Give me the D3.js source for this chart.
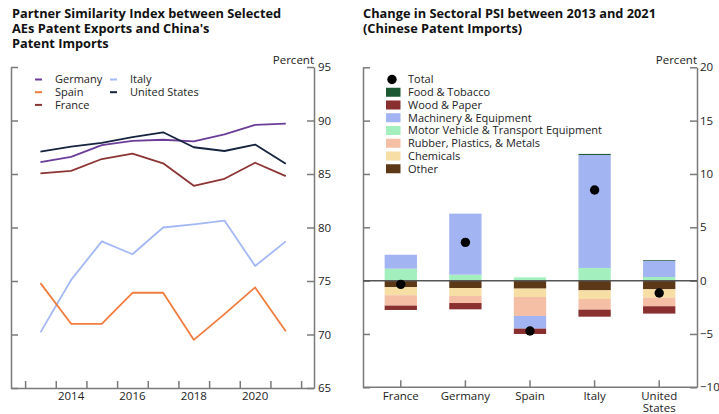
<!DOCTYPE html>
<html><head><meta charset="utf-8">
<script src="https://cdn.jsdelivr.net/npm/d3@7"></script>
<style>
body{margin:0;background:#fff;}
svg{display:block;font-family:"Open Sans",sans-serif;}
.axis path,.axis line{stroke:#7a7a7a;stroke-width:1.5;}
.axis text{font-size:11.5px;fill:#222;font-family:"Open Sans",sans-serif;}
</style></head>
<body>
<svg id="c" width="719" height="414"></svg>
<script>
// ---------- Left panel data ----------
const years = [2013,2014,2015,2016,2017,2018,2019,2020,2021];
const germany = [86.1, 86.6, 87.7, 88.1, 88.2, 88.05, 88.7, 89.6, 89.7];
const spain   = [74.8, 71.0, 71.0, 73.9, 73.9, 69.5, 71.9, 74.4, 70.3];
const france  = [85.05, 85.3, 86.4, 86.9, 86.0, 83.9, 84.55, 86.05, 84.8];
const italy   = [70.2, 75.1, 78.7, 77.5, 80.0, 80.3, 80.65, 76.4, 78.7];
const unitedStates = [87.1, 87.55, 87.9, 88.45, 88.9, 87.5, 87.15, 87.75, 85.95];
const leftYTicks = [65,70,75,80,85,90,95];
const yearLabels = [2014,2016,2018,2020];

// ---------- Right panel data ----------
const countries = ["France","Germany","Spain","Italy","United States"];
const foodTobacco  = [0, 0, 0, 0.1, 0.07];
const woodPaper    = [-0.41, -0.59, -0.5, -0.66, -0.69];
const machinery    = [1.31, 5.72, -1.19, 10.59, 1.5];
const motorVehicle = [1.12, 0.56, 0.31, 1.19, 0.34];
const rubber       = [-0.97, -0.66, -1.78, -1.0, -0.81];
const chemicals    = [-0.75, -0.75, -0.78, -0.81, -0.78];
const other        = [-0.62, -0.69, -0.75, -0.91, -0.81];
const total        = [-0.35, 3.59, -4.72, 8.5, -1.16];
const rightYTicks = [-10,-5,0,5,10,15,20];

const svg = d3.select("#c");

// ================= LEFT PANEL =================
const L = {x0:11, x1:314, y0:67, y1:388};
const xL = d3.scaleLinear().domain([2012.04, 2021.92]).range([L.x0, L.x1]);
const yL = d3.scaleLinear().domain([65,95]).range([L.y1, L.y0]);

const titleL = ["Partner Similarity Index between Selected","AEs Patent Exports and China's","Patent Imports"];
svg.append("text").attr("x",12).attr("y",18)
  .attr("font-weight","bold").attr("font-size","12.8px").attr("fill","#111")
  .selectAll("tspan").data(titleL).join("tspan")
  .attr("x",12).attr("dy",(d,i)=>i?15:0).text(d=>d);

svg.append("g").attr("class","axis").attr("transform",`translate(${L.x0},0)`)
  .call(d3.axisLeft(yL).tickValues(leftYTicks).tickSizeInner(-7).tickSizeOuter(0).tickFormat(""));
svg.append("g").attr("class","axis").attr("transform",`translate(${L.x1},0)`)
  .call(d3.axisRight(yL).tickValues(leftYTicks).tickSizeInner(-7).tickSizeOuter(0).tickPadding(4));
const halfYears = d3.range(2012.5, 2022, 1);
svg.append("g").attr("class","axis").attr("transform",`translate(0,${L.y1})`)
  .call(d3.axisBottom(xL).tickValues(halfYears).tickSizeInner(-7).tickSizeOuter(0).tickFormat(""));
svg.append("g").selectAll("text").data(yearLabels).join("text")
  .attr("x",d=>xL(d)).attr("y",L.y1+12).attr("text-anchor","middle")
  .attr("font-size","11.5px").attr("fill","#222").text(d=>d);
svg.append("text").attr("x",L.x1).attr("y",64).attr("text-anchor","end")
  .attr("font-size","11.5px").attr("fill","#222").text("Percent");

const seriesL = [
  {name:"Italy", values:italy, color:"#a4b8f6"},
  {name:"Spain", values:spain, color:"#f07c3e"},
  {name:"France", values:france, color:"#8c3434"},
  {name:"Germany", values:germany, color:"#6b3d98"},
  {name:"United States", values:unitedStates, color:"#15233f"}
];
const line = d3.line().x((d,i)=>xL(years[i])).y(d=>yL(d));
svg.append("g").selectAll("path").data(seriesL).join("path")
  .attr("d",d=>line(d.values)).attr("fill","none")
  .attr("stroke",d=>d.color).attr("stroke-width",1.8).attr("stroke-linejoin","round");

const legL = [
  {name:"Germany", color:"#6b3d98", col:0, row:0},
  {name:"Spain", color:"#f07c3e", col:0, row:1},
  {name:"France", color:"#8c3434", col:0, row:2},
  {name:"Italy", color:"#a4b8f6", col:1, row:0},
  {name:"United States", color:"#15233f", col:1, row:1}
];
const lg = svg.append("g").selectAll("g").data(legL).join("g")
  .attr("transform",d=>`translate(${35+d.col*75},${79.5+d.row*12.7})`);
lg.append("line").attr("x1",0).attr("x2",7).attr("stroke",d=>d.color).attr("stroke-width",2);
lg.append("text").attr("x",20).attr("dy","0.35em").attr("font-size","11px").attr("fill","#222").text(d=>d.name);

// ================= RIGHT PANEL =================
const R = {x0:363, x1:697, y0:67.3, y1:387.3};
const xR = d3.scaleBand().domain(countries).range([R.x0,R.x1]).paddingInner(0.5).paddingOuter(0.335);
const yR = d3.scaleLinear().domain([-10,20]).range([R.y1,R.y0]);

const titleR = ["Change in Sectoral PSI between 2013 and 2021","(Chinese Patent Imports)"];
svg.append("text").attr("x",363).attr("y",18)
  .attr("font-weight","bold").attr("font-size","12.8px").attr("fill","#111")
  .selectAll("tspan").data(titleR).join("tspan")
  .attr("x",363).attr("dy",(d,i)=>i?15:0).text(d=>d);

svg.append("g").attr("class","axis").attr("transform",`translate(${R.x0},0)`)
  .call(d3.axisLeft(yR).tickValues(rightYTicks).tickSizeInner(-7).tickSizeOuter(0).tickFormat(""));
svg.append("g").attr("class","axis").attr("transform",`translate(${R.x1},0)`)
  .call(d3.axisRight(yR).tickValues(rightYTicks).tickSizeInner(-7).tickSizeOuter(0).tickPadding(3));
svg.append("text").attr("x",R.x1).attr("y",64).attr("text-anchor","end")
  .attr("font-size","11.5px").attr("fill","#222").text("Percent");

const keys = ["other","chemicals","rubber","motorVehicle","machinery","woodPaper","foodTobacco"];
const src = {other,chemicals,rubber,motorVehicle,machinery,woodPaper,foodTobacco};
const colors = {foodTobacco:"#1d5a33", woodPaper:"#8a2f2f", machinery:"#a3b4f2", motorVehicle:"#a3efbd",
  rubber:"#f4bfa4", chemicals:"#f6dea4", other:"#5c3816"};
const labels = {foodTobacco:"Food & Tobacco", woodPaper:"Wood & Paper", machinery:"Machinery & Equipment",
  motorVehicle:"Motor Vehicle & Transport Equipment", rubber:"Rubber, Plastics, & Metals", chemicals:"Chemicals", other:"Other"};
const table = countries.map((c,i)=>{const o={country:c}; keys.forEach(k=>o[k]=src[k][i]); return o;});
const stacked = d3.stack().keys(keys).offset(d3.stackOffsetDiverging)(table);

svg.append("g").selectAll("g").data(stacked).join("g").attr("fill",d=>colors[d.key])
  .selectAll("rect").data(d=>d).join("rect")
  .attr("x",d=>xR(d.data.country)).attr("width",xR.bandwidth())
  .attr("y",d=>yR(Math.max(d[0],d[1]))).attr("height",d=>Math.abs(yR(d[0])-yR(d[1])));

svg.append("g").attr("class","axis").attr("transform",`translate(0,${R.y1})`)
  .call(d3.axisBottom(xR).tickSizeInner(-7).tickSizeOuter(0).tickFormat(""))
  .call(g=>g.select(".domain").attr("d",`M${R.x0},0H${R.x1}`));
svg.append("g").selectAll("text").data(countries).join("text")
  .attr("x",d=>xR(d)+xR.bandwidth()/2).attr("y",R.y1+12.5).attr("text-anchor","middle")
  .attr("font-size","11.5px").attr("fill","#222")
  .each(function(d){
    const parts = d==="United States"?["United","States"]:[d];
    const x = xR(d)+xR.bandwidth()/2;
    d3.select(this).selectAll("tspan").data(parts).join("tspan").attr("x",x).attr("dy",(p,i)=>i?12.5:0).text(p=>p);
  });

svg.append("line").attr("x1",R.x0).attr("x2",R.x1).attr("y1",yR(0)).attr("y2",yR(0))
  .attr("stroke","#555").attr("stroke-width",1.5);

svg.append("g").selectAll("circle").data(countries).join("circle")
  .attr("cx",d=>xR(d)+xR.bandwidth()/2).attr("cy",(d,i)=>yR(total[i])).attr("r",4.7).attr("fill","#000");

const legR = svg.append("g").attr("transform","translate(386,79.5)");
legR.append("circle").attr("cx",6).attr("cy",0).attr("r",4.7).attr("fill","#000");
legR.append("text").attr("x",22).attr("dy","0.35em").attr("font-size","11px").attr("fill","#222").text("Total");
const legKeys = keys.slice().reverse();
const li = legR.selectAll("g.li").data(legKeys).join("g").attr("class","li")
  .attr("transform",(d,i)=>`translate(0,${(i+1)*12.75})`);
li.append("rect").attr("x",0).attr("y",-4.5).attr("width",14.5).attr("height",9).attr("fill",d=>colors[d]);
li.append("text").attr("x",22).attr("dy","0.35em").attr("font-size","11px").attr("fill","#222").text(d=>labels[d]);
</script>
</body></html>
